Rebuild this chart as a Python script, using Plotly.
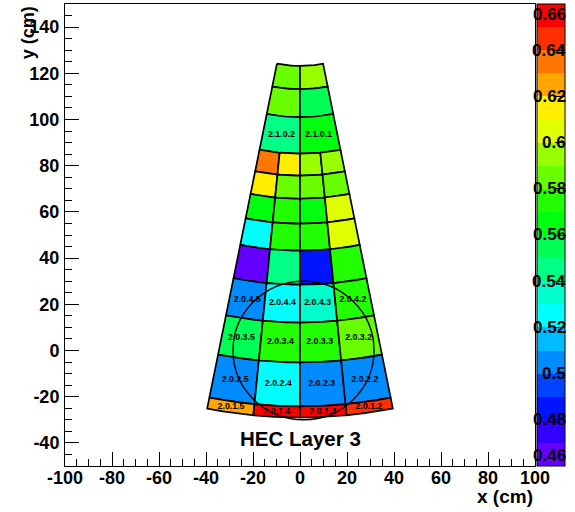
import colorsys
import numpy as np
import plotly.graph_objects as go

# ---------------- data ----------------
# HEC layer-3 wedge: cells bounded by arcs around the beam axis (0, apex_y)
apex_y = 173.5
r_edges = [50.3, 60.4, 72.5, 88.3, 97.8, 107.8, 118.6, 130.3, 145.0, 161.4, 178.7, 197.7, 202.5]
phi_edges_2 = [-11.25, 0.0, 11.25]
phi_edges_4 = [-11.25, -5.625, 0.0, 5.625, 11.25]
row_ncols = [2, 2, 2, 4, 4, 4, 4, 4, 4, 4, 4, 4]

# cell values, one list per ring (outer ring last), left to right
row_values = [
    [0.582, 0.595],
    [0.585, 0.555],
    [0.545, 0.565],
    [0.635, 0.615, 0.595, 0.592],
    [0.615, 0.585, 0.585, 0.582],
    [0.568, 0.572, 0.568, 0.605],
    [0.525, 0.577, 0.577, 0.603],
    [0.465, 0.545, 0.485, 0.578],
    [0.505, 0.525, 0.535, 0.575],
    [0.555, 0.575, 0.575, 0.585],
    [0.503, 0.525, 0.501, 0.503],
    [0.625, 0.655, 0.655, 0.645],
]
row_labels = [
    ["", ""],
    ["", ""],
    ["2.1.0.2", "2.1.0.1"],
    ["", "", "", ""],
    ["", "", "", ""],
    ["", "", "", ""],
    ["", "", "", ""],
    ["", "", "", ""],
    ["2.0.4.5", "2.0.4.4", "2.0.4.3", "2.0.4.2"],
    ["2.0.3.5", "2.0.3.4", "2.0.3.3", "2.0.3.2"],
    ["2.0.2.5", "2.0.2.4", "2.0.2.3", "2.0.2.2"],
    ["2.0.1.5", "2.0.1.4", "2.0.1.3", "2.0.1.2"],
]

# reference circle
circle_center = (1.5, 0.0)
circle_radius = 30.0

zmin, zmax, nbands = 0.46, 0.66, 20
cbar_ticks = [0.46, 0.48, 0.50, 0.52, 0.54, 0.56, 0.58, 0.60, 0.62, 0.64, 0.66]
cbar_ticktext = ["0.46", "0.48", "0.5", "0.52", "0.54", "0.56", "0.58", "0.6", "0.62", "0.64", "0.66"]
x_ticks = [-100, -80, -60, -40, -20, 0, 20, 40, 60, 80, 100]
x_ticktext = ["-100", "-80", "-60", "-40", "-20", "0", "20", "40", "60", "80", "100"]
y_ticks = [-40, -20, 0, 20, 40, 60, 80, 100, 120, 140]
y_ticktext = ["-40", "-20", "0", "20", "40", "60", "80", "100", "120", "140"]

# ---------------- palette (ROOT rainbow, 20 contour bands) ----------------
band_colors = []
for i in range(nbands):
    j = int((i + 0.99) * 50 / nbands)
    hue = 280 - (j + 1) * 280 / 50
    r, g, b = colorsys.hls_to_rgb(hue / 360.0, 0.5, 1.0)
    band_colors.append("rgb(%d,%d,%d)" % (round(r * 255), round(g * 255), round(b * 255)))
colorscale = []
for i, c in enumerate(band_colors):
    colorscale.append([i / nbands, c])
    colorscale.append([(i + 1) / nbands, c])


def value_color(v):
    i = int((v - zmin) / (zmax - zmin) * nbands)
    return band_colors[min(nbands - 1, max(0, i))]


def cell_polygon(r0, r1, p0, p1, n=14):
    a = np.radians(np.linspace(p0, p1, n))
    b = a[::-1]
    xs = np.concatenate([r0 * np.sin(a), r1 * np.sin(b), [r0 * np.sin(a[0])]])
    ys = np.concatenate([apex_y - r0 * np.cos(a), apex_y - r1 * np.cos(b), [apex_y - r0 * np.cos(a[0])]])
    return xs, ys


FONT = "Liberation Sans, Arial, sans-serif"

fig = go.Figure()
cx, cy, cv, ct = [], [], [], []
for k, (vals, labs) in enumerate(zip(row_values, row_labels)):
    edges = phi_edges_2 if row_ncols[k] == 2 else phi_edges_4
    r0, r1 = r_edges[k], r_edges[k + 1]
    for c in range(row_ncols[k]):
        p0, p1 = edges[c], edges[c + 1]
        xs, ys = cell_polygon(r0, r1, p0, p1)
        fig.add_trace(go.Scatter(x=xs, y=ys, mode="lines", fill="toself",
                                 fillcolor=value_color(vals[c]),
                                 line=dict(color="black", width=1.7),
                                 hoverinfo="skip", showlegend=False))
        rm = 0.5 * (r0 + r1)
        pm = np.radians(0.5 * (p0 + p1))
        cx.append(rm * np.sin(pm))
        cy.append(apex_y - rm * np.cos(pm))
        cv.append(vals[c])
        ct.append(labs[c])

fig.add_trace(go.Scatter(
    x=cx, y=cy, mode="markers+text", text=ct, textposition="middle center",
    textfont=dict(size=8.8, color="black", family=FONT, weight="bold"),
    marker=dict(color=cv, colorscale=colorscale, cmin=zmin, cmax=zmax, size=2, opacity=0,
                colorbar=dict(x=537 / 575, xref="container", xanchor="left",
                              y=0.5, yref="paper", yanchor="middle",
                              len=1, lenmode="fraction", thickness=28, thicknessmode="pixels",
                              xpad=0, ypad=0, outlinewidth=1, outlinecolor="black",
                              tickvals=cbar_ticks, ticks="inside", ticklen=10,
                              tickcolor="black", showticklabels=False)),
    hoverinfo="skip", showlegend=False))

# colour-bar labels, drawn over the bar like ROOT's palette axis
label_right = (565 - 65) / 470
for v, t in zip(cbar_ticks, cbar_ticktext):
    frac = (v - zmin) / (zmax - zmin)
    anchor = "top" if frac >= 1 else ("bottom" if frac <= 0 else "middle")
    fig.add_annotation(text=t, x=label_right, y=frac, xref="paper", yref="paper",
                       xanchor="right", yanchor=anchor, showarrow=False,
                       borderpad=0, xshift=2,
                       font=dict(size=17, color="black", family=FONT, weight="bold"))

fig.add_shape(type="circle", xref="x", yref="y",
              x0=circle_center[0] - circle_radius, x1=circle_center[0] + circle_radius,
              y0=circle_center[1] - circle_radius, y1=circle_center[1] + circle_radius,
              line=dict(color="black", width=1.4), layer="above")

axis_font = dict(size=18, color="black", family=FONT, weight="bold")
common = dict(showgrid=False, zeroline=False, showline=True, mirror=True, linecolor="black",
              linewidth=1, ticks="inside", ticklen=14, tickwidth=1, tickcolor="black",
              tickfont=axis_font,
              minor=dict(dtick=5, ticks="inside", ticklen=7, tickwidth=1, tickcolor="black"))
fig.update_xaxes(range=[-100, 100], tickvals=x_ticks, ticktext=x_ticktext,
                 ticklabelstandoff=-5, **common)
fig.update_yaxes(range=[-50, 150], tickvals=y_ticks, ticktext=y_ticktext,
                 ticklabelstandoff=1, **common)

fig.add_annotation(text="HEC Layer 3", x=0, y=-38.3, xref="x", yref="y", showarrow=False,
                   font=dict(size=20.5, color="black", family=FONT, weight="bold"))
fig.add_annotation(text="x (cm)", x=1, y=-0.066, xref="paper", yref="paper", xanchor="right",
                   yanchor="middle", showarrow=False,
                   font=dict(size=19, color="black", family=FONT, weight="bold"))
fig.add_annotation(text="y (cm)", x=-0.079, y=1.0, xref="paper", yref="paper", xanchor="center",
                   yanchor="top", textangle=-90, showarrow=False,
                   font=dict(size=18, color="black", family=FONT, weight="bold"))

fig.update_layout(width=575, height=512,
                  margin=dict(l=65, r=40, t=4, b=46, autoexpand=False),
                  paper_bgcolor="white", plot_bgcolor="white",
                  font=dict(family=FONT, color="black"))
fig.write_html("out.html", config={"displayModeBar": False},
               post_script="document.body.style.margin='0px';")
